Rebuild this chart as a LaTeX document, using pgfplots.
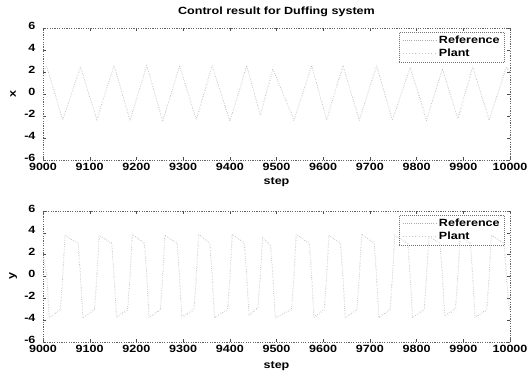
\documentclass[border=0pt]{standalone}
\usepackage{pgfplots}
\pgfplotsset{compat=1.18}
\usepackage{pgfplotstable}
\usepackage{fontspec}
\setmainfont{Liberation Sans}[FakeStretch=1.2]

\pgfplotstableread{
t x
9000 2.2
9008 2.5
9042 -2.4
9080 2.5
9115 -2.3
9152 2.6
9186 -2.4
9222 2.6
9256 -2.5
9292 2.5
9328 -2.3
9362 2.6
9400 -2.5
9436 2.6
9465 -1.9
9492 2.3
9537 -2.4
9575 2.6
9607 -2.3
9642 2.6
9677 -2.4
9714 2.6
9748 -2.4
9786 2.4
9821 -2.4
9855 2.3
9888 -2.2
9920 2.5
9955 -2.4
9992 2.5
10000 2.0
}\xref

\pgfplotstableread{
t x
9000 2.1
9009 2.4
9043 -2.3
9081 2.4
9116 -2.4
9153 2.5
9187 -2.3
9223 2.5
9257 -2.4
9293 2.6
9329 -2.4
9363 2.5
9401 -2.4
9437 2.5
9466 -2.0
9493 2.2
9538 -2.3
9576 2.5
9608 -2.4
9643 2.5
9678 -2.3
9715 2.5
9749 -2.3
9787 2.5
9822 -2.3
9856 2.2
9889 -2.3
9921 2.4
9956 -2.3
9993 2.4
10000 1.9
}\xplant

\pgfplotstableread{
t y
9000 2.0
9008 0
9013 -3.8
9037 -3.0
9042 0
9047 3.8
9075 3.0
9080 0
9085 -3.8
9110 -3.0
9115 0
9120 3.8
9147 3.0
9152 0
9157 -3.7
9181 -3.0
9186 0
9191 3.9
9217 3.0
9222 0
9227 -3.8
9251 -3.0
9256 0
9261 3.8
9287 3.0
9292 0
9297 -3.7
9323 -3.0
9328 0
9333 3.9
9357 3.0
9362 0
9367 -3.8
9395 -3.0
9400 0
9405 3.9
9431 3.0
9436 0
9441 -3.6
9460 -2.8
9465 0
9470 3.6
9487 2.8
9492 0
9497 -3.8
9532 -3.0
9537 0
9542 3.9
9570 3.0
9575 0
9580 -3.7
9602 -3.0
9607 0
9612 3.8
9637 3.0
9642 0
9647 -3.8
9672 -3.0
9677 0
9682 3.9
9709 3.0
9714 0
9719 -3.8
9743 -3.0
9748 0
9753 3.8
9781 3.0
9786 0
9791 -3.8
9816 -3.0
9821 0
9826 3.7
9850 3.0
9855 0
9860 -3.6
9883 -2.9
9888 0
9893 3.7
9915 3.0
9920 0
9925 -3.8
9950 -3.0
9955 0
9960 3.8
9987 3.0
9992 0
9997 -2.5
10000 -3.2
}\yref

\pgfplotstableread{
t y
9000 1.8
9009 0
9014 -3.7
9038 -3.1
9043 0
9048 3.7
9076 3.1
9081 0
9086 -3.7
9111 -3.1
9116 0
9121 3.7
9148 3.1
9153 0
9158 -3.8
9182 -3.1
9187 0
9192 3.8
9218 3.1
9223 0
9228 -3.7
9252 -3.1
9257 0
9262 3.7
9288 3.1
9293 0
9298 -3.8
9324 -3.1
9329 0
9334 3.8
9358 3.1
9363 0
9368 -3.7
9396 -3.1
9401 0
9406 3.8
9432 3.1
9437 0
9442 -3.5
9461 -2.9
9466 0
9471 3.5
9488 2.9
9493 0
9498 -3.7
9533 -3.1
9538 0
9543 3.8
9571 3.1
9576 0
9581 -3.8
9603 -3.1
9608 0
9613 3.7
9638 3.1
9643 0
9648 -3.7
9673 -3.1
9678 0
9683 3.8
9710 3.1
9715 0
9720 -3.7
9744 -3.1
9749 0
9754 3.7
9782 3.1
9787 0
9792 -3.7
9817 -3.1
9822 0
9827 3.6
9851 3.1
9856 0
9861 -3.7
9884 -3.0
9889 0
9894 3.6
9916 3.1
9921 0
9926 -3.7
9951 -3.1
9956 0
9961 3.7
9988 3.1
9993 0
9998 -2.4
10000 -3.1
}\yplant

\pgfplotsset{
  duff/.style={
    scale only axis,
    width=467bp, height=132bp,
    xmin=9000, xmax=10000, ymin=-6, ymax=6,
    xtick={9000,9100,...,10000},
    ytick={-6,-4,...,6},
    scaled x ticks=false, scaled y ticks=false,
    tick align=inside,
    tick pos=both,
    major tick length=3bp,
    font=\fontsize{10.5}{12.6}\selectfont\bfseries,
    /pgf/number format/assume math mode=true,
    xticklabel style={/pgf/number format/1000 sep={}, inner ysep=0.5pt, yshift=-2.5bp},
    yticklabel style={xshift=-4bp, yshift=2.5bp, inner ysep=0.5pt},
    axis line style={black!60, dash pattern=on 1.2pt off 1.2pt},
    every tick/.style={black!70},
    xlabel={step},
    xlabel style={at={(axis description cs:0.5,-0.17)}, anchor=center},
    ylabel style={at={(axis description cs:-0.064,0.5)}, anchor=center},
    every axis title shift=0pt,
    legend cell align=left,
    legend style={draw=black!55, dash pattern=on 1pt off 1pt, fill=none,
      at={(0.989,0.97)}, anchor=north east,
      inner xsep=3bp, inner ysep=2bp, row sep=0bp,
      font=\fontsize{10.5}{12.6}\selectfont\bfseries},
    legend image code/.code={\draw[#1] (0bp,0bp) -- (34bp,0bp);},
  },
  refst/.style={gray!65, line width=0.5pt, dash pattern=on 0.6pt off 1.6pt},
  plst/.style={gray!45, line width=0.5pt, dash pattern=on 0.6pt off 2.6pt},
}

\begin{document}
\begin{tikzpicture}
\path[use as bounding box] (0,0) rectangle (529bp,379bp);
\begin{axis}[duff, at={(43bp,219bp)}, anchor=south west,
  ylabel={x},
  title={Control result for Duffing system},
  title style={at={(axis description cs:0.5,1.121)}, anchor=center}]
\addplot[refst] table[x=t,y=x] {\xref};
\addlegendentry{Reference}
\addplot[plst] table[x=t,y=x] {\xplant};
\addlegendentry{Plant}
\end{axis}
\begin{axis}[duff, at={(43bp,37bp)}, anchor=south west, height=131bp,
  ylabel={y},
  xlabel style={at={(axis description cs:0.5,-0.183)}, anchor=center}]
\addplot[refst] table[x=t,y=y] {\yref};
\addlegendentry{Reference}
\addplot[plst] table[x=t,y=y] {\yplant};
\addlegendentry{Plant}
\end{axis}
\end{tikzpicture}
\end{document}
